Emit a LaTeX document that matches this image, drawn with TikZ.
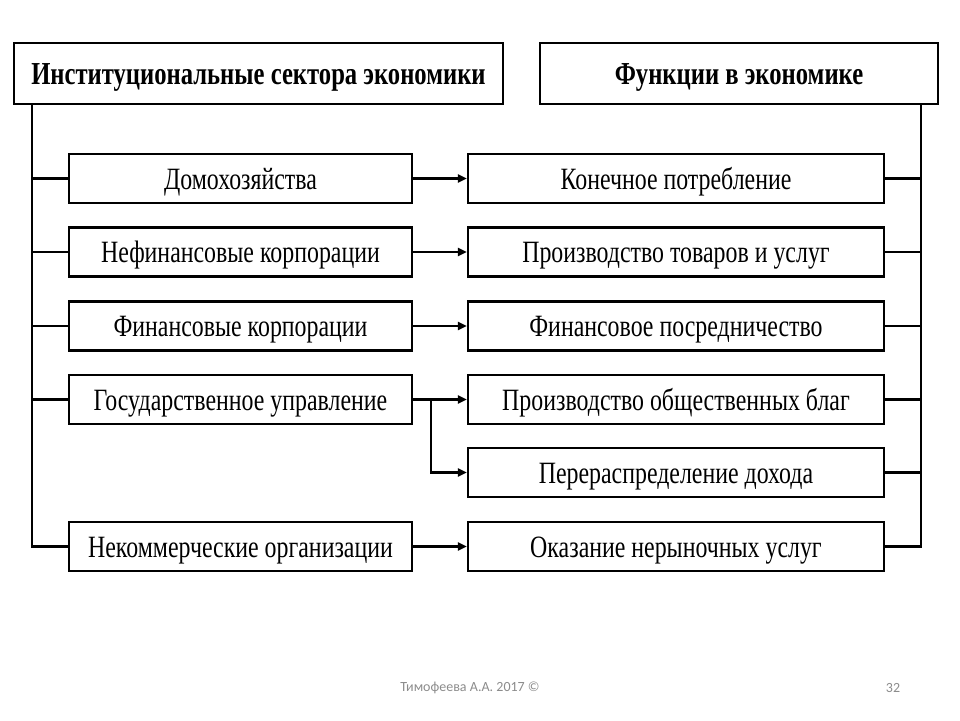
\documentclass[tikz,border=0pt]{standalone}
\usepackage{fontspec}
\setmainfont{Liberation Serif}[FakeStretch=0.77]
\newfontfamily\footfont{Carlito}
\usetikzlibrary{calc,arrows.meta,shadows}
\begin{document}
\begin{tikzpicture}[x=1pt,y=-1pt,
  box/.style={draw=black,line width=2.2pt,fill=white,inner sep=0pt,
    drop shadow={shadow xshift=1pt,shadow yshift=-1pt,opacity=1,fill=black},
    font=\fontsize{31}{33}\selectfont,text height=21pt,text depth=0pt},
  lbox/.style={box,minimum width=343pt,minimum height=49pt},
  rbox/.style={box,minimum width=416pt,minimum height=49pt},
  hbox/.style={box,minimum height=61pt,font=\bfseries\fontsize{32}{34}\selectfont},
  conn/.style={line width=2.4pt},
  arr/.style={conn,-{Triangle[length=9pt,width=8pt]}},
  foot/.style={font=\footfont\fontsize{14}{16}\selectfont,text=black!45}]
\useasboundingbox (0,0) rectangle (960,720);
\fill[white] (0,0) rectangle (960,720);
% headers
\node[hbox,minimum width=489pt] (h1) at (258.5,73.5) {Институциональные сектора экономики};
\node[hbox,minimum width=398pt] (h2) at (739,73.5) {Функции в экономике};
% left column
\node[lbox] (l1) at (240.5,178.5) {Домохозяйства};
\node[lbox] (l2) at (240.5,252) {Нефинансовые корпорации};
\node[lbox] (l3) at (240.5,326) {Финансовые корпорации};
\node[lbox] (l4) at (240.5,399.5) {Государственное управление};
\node[lbox] (l5) at (240.5,546.5) {Некоммерческие организации};
% right column
\node[rbox] (r1) at (676,178.5) {Конечное потребление};
\node[rbox] (r2) at (676,252) {Производство товаров и услуг};
\node[rbox] (r3) at (676,326) {Финансовое посредничество};
\node[rbox] (r4) at (676,399.5) {Производство общественных благ};
\node[rbox] (r5) at (676,472.5) {Перераспределение дохода};
\node[rbox] (r6) at (676,546.5) {Оказание нерыночных услуг};
% bus coordinates
\coordinate (lb) at ($(h1.south west)+(19,0)$);
\coordinate (rb) at ($(h2.south east)+(-18,0)$);
\coordinate (br) at ($(l4.east)+(18,0)$);
% left bus
\draw[conn] (lb) |- (l5.west);
\foreach \n in {l1,l2,l3,l4} \draw[conn] (lb |- \n.west) -- (\n.west);
% right bus
\draw[conn] (rb) |- (r6.east);
\foreach \n in {r1,r2,r3,r4,r5} \draw[conn] (rb |- \n.east) -- (\n.east);
% arrows
\draw[arr] (l1.east) -- (r1.west);
\draw[arr] (l2.east) -- (r2.west);
\draw[arr] (l3.east) -- (r3.west);
\draw[arr] (l4.east) -- (r4.west);
\draw[arr] (br) |- (r5.west);
\draw[arr] (l5.east) -- (r6.west);
% footer
\node[foot] (f1) at (470,688) {Тимофеева А.А. 2017 ©};
\node[foot] (f2) at (893,688) {32};
\end{tikzpicture}
\end{document}
